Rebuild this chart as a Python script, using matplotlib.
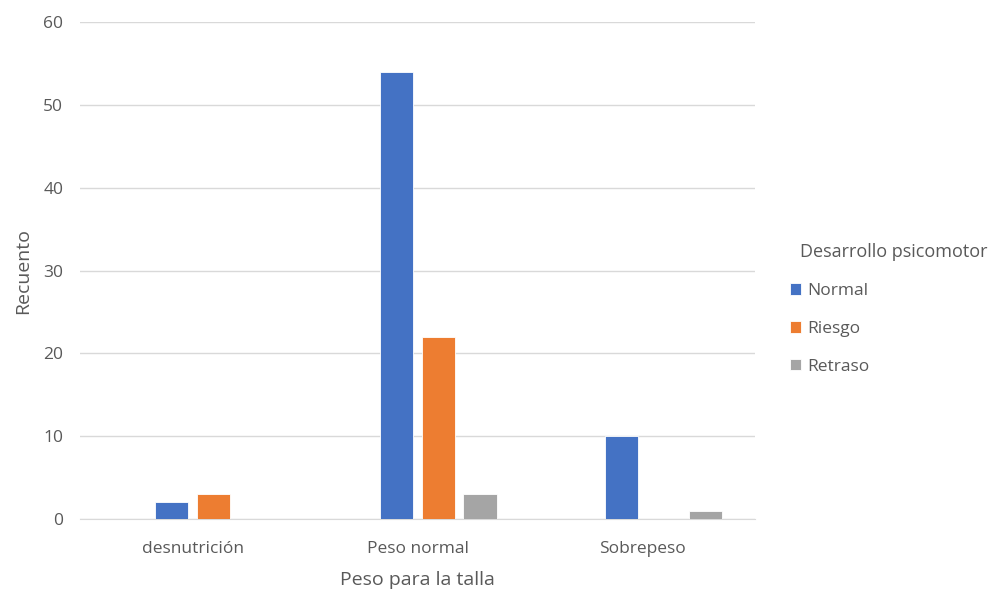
import matplotlib.pyplot as plt
import numpy as np

plt.rcParams['font.family'] = ['Open Sans', 'DejaVu Sans']

categorias = ['desnutrición', 'Peso normal', 'Sobrepeso']
series = ['Normal', 'Riesgo', 'Retraso']
normal = [2, 54, 10]
riesgo = [3, 22, 0]
retraso = [0, 3, 1]
colores = ['#4472C4', '#ED7D31', '#A5A5A5']
texto = '#595959'

fig = plt.figure(figsize=(9.91, 5.90), dpi=100)
ax = fig.add_axes([0.0807, 0.1203, 0.6813, 0.8424])

x = np.arange(len(categorias))
ancho = 0.147
paso = 0.185
for i, (vals, col, nombre) in enumerate(zip([normal, riesgo, retraso], colores, series)):
    ax.bar(x + (i - 0.5) * paso, vals, ancho, color=col, label=nombre,
           edgecolor='white', linewidth=0.6, zorder=3)

ax.set_xlim(-0.5, 2.5)
ax.set_ylim(0, 60)
ax.set_yticks(range(0, 61, 10))
ax.set_xticks(x)
ax.set_xticklabels(categorias)
ax.grid(axis='y', color='#D9D9D9', linewidth=1, zorder=0)
for s in ['top', 'right', 'left']:
    ax.spines[s].set_visible(False)
ax.spines['bottom'].set_color('#D9D9D9')
ax.tick_params(axis='both', length=0, colors=texto, labelsize=12.5)
ax.tick_params(axis='y', pad=12)
ax.tick_params(axis='x', pad=16)
ax.set_xlabel('Peso para la talla', color=texto, fontsize=14, labelpad=10)
ax.set_ylabel('Recuento', color=texto, fontsize=14, labelpad=8)

fig.text(0.807, 0.573, 'Desarrollo psicomotor', color=texto, fontsize=13,
         ha='left', va='center')
leg = fig.legend(loc='upper left', bbox_to_anchor=(0.797, 0.52), frameon=False,
                 fontsize=12.5, handlelength=0.65, handleheight=0.65,
                 handletextpad=0.35, labelspacing=1.25, borderpad=0, borderaxespad=0)
for t in leg.get_texts():
    t.set_color(texto)

fig.savefig('out.png', dpi=100)
